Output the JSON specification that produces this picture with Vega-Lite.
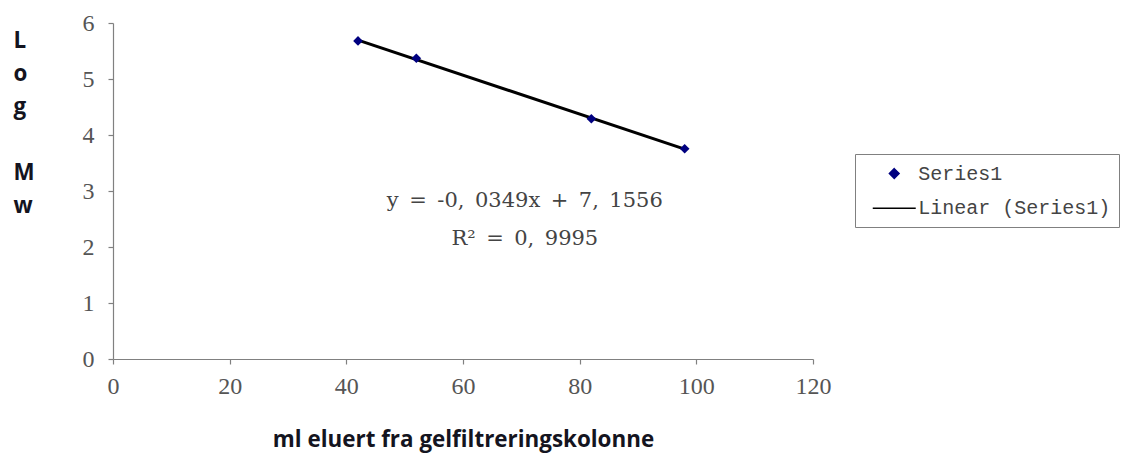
{
  "$schema": "https://vega.github.io/schema/vega-lite/v6.json",
  "width": 700,
  "height": 336,
  "autosize": {"type": "none"},
  "padding": {"left": 113, "top": 23, "right": 309, "bottom": 94},
  "background": "white",
  "config": {
    "view": {"stroke": null},
    "axis": {
      "grid": false,
      "domainColor": "#808080",
      "tickColor": "#808080",
      "domainWidth": 1.2,
      "tickWidth": 1.2,
      "labelFont": "Liberation Serif",
      "labelFontSize": 24,
      "labelColor": "#555555",
      "titleFont": "Open Sans",
      "titleFontWeight": "bold",
      "titleFontSize": 22.4,
      "titleColor": "#141420"
    }
  },
  "resolve": {"axis": {"y": "independent"}},
  "layer": [
    {
      "data": {"values": [
        {"ml": 42, "logMw": 5.68, "series": "Series1"},
        {"ml": 52, "logMw": 5.37, "series": "Series1"},
        {"ml": 82, "logMw": 4.29, "series": "Series1"},
        {"ml": 98, "logMw": 3.755, "series": "Series1"}
      ]},
      "layer": [
        {
          "transform": [
            {"regression": "logMw", "on": "ml", "method": "linear"},
            {"calculate": "'Linear (Series1)'", "as": "series"}
          ],
          "mark": {"type": "line", "strokeWidth": 3},
          "encoding": {
            "x": {"field": "ml", "type": "quantitative"},
            "y": {"field": "logMw", "type": "quantitative"},
            "color": {"field": "series", "type": "nominal"}
          }
        },
        {
          "mark": {"type": "point", "filled": true, "opacity": 1},
          "encoding": {
            "x": {
              "field": "ml", "type": "quantitative",
              "scale": {"domain": [0, 120], "nice": false, "zero": false},
              "axis": {
                "title": "ml eluert fra gelfiltreringskolonne",
                "values": [0, 20, 40, 60, 80, 100, 120],
                "format": "d",
                "labelFlush": false,
                "tickSize": 5,
                "labelPadding": 10,
                "titleY": 87,
                "titleBaseline": "alphabetic"
              }
            },
            "y": {
              "field": "logMw", "type": "quantitative",
              "scale": {"domain": [0, 6], "nice": false, "zero": false},
              "axis": {
                "title": ["L", "o", "g"],
                "titleAngle": 0,
                "titleAlign": "left",
                "titleX": -100,
                "titleY": 24,
                "titleBaseline": "alphabetic",
                "titleLineHeight": 33,
                "values": [0, 1, 2, 3, 4, 5, 6],
                "format": "d",
                "tickSize": 5,
                "labelPadding": 14
              }
            },
            "color": {
              "field": "series", "type": "nominal",
              "scale": {"domain": ["Series1", "Linear (Series1)"], "range": ["#000080", "#000000"]},
              "legend": {
                "title": null,
                "orient": "none",
                "legendX": 742,
                "legendY": 131,
                "strokeColor": "#808080",
                "fillColor": "white",
                "padding": 8,
                "labelFont": "Liberation Mono",
                "labelFontSize": 20,
                "labelColor": "#444444",
                "labelLimit": 400,
                "symbolSize": 462,
                "symbolOffset": 19.75,
                "labelOffset": 12.5,
                "rowPadding": 12.75,
                "encode": {
                  "symbols": {"update": {
                    "stroke": {"signal": "datum.value === 'Series1' ? '#000080' : '#000000'"},
                    "strokeWidth": {"signal": "datum.value === 'Series1' ? 1 : 3"},
                    "fill": {"signal": "datum.value === 'Series1' ? '#000080' : 'transparent'"}
                  }}
                }
              }
            },
            "shape": {
              "field": "series", "type": "nominal",
              "scale": {"domain": ["Series1", "Linear (Series1)"], "range": ["M0,-0.45L0.45,0L0,0.45L-0.45,0Z", "M-2,0H2"]}
            },
            "size": {"value": 462}
          }
        }
      ]
    },
    {
      "data": {"values": [
        {"ml": 70.6, "logMw": 2.72, "label": ["y\u2002=\u2002-0,\u20020349x\u2002+\u20027,\u20021556", "R²\u2002=\u20020,\u20029995"]}
      ]},
      "mark": {"type": "text", "font": "DejaVu Serif", "fontSize": 21, "color": "#444444", "align": "center", "baseline": "alphabetic", "lineHeight": 38},
      "encoding": {
        "x": {"field": "ml", "type": "quantitative"},
        "y": {
          "field": "logMw", "type": "quantitative",
          "axis": {
            "orient": "left",
            "title": ["M", "w"],
            "titleAngle": 0,
            "titleAlign": "left",
            "titleX": -100,
            "titleY": 156,
            "titleBaseline": "alphabetic",
            "titleLineHeight": 33,
            "labels": false,
            "ticks": false,
            "domain": false
          }
        },
        "text": {"field": "label"}
      }
    }
  ]
}
